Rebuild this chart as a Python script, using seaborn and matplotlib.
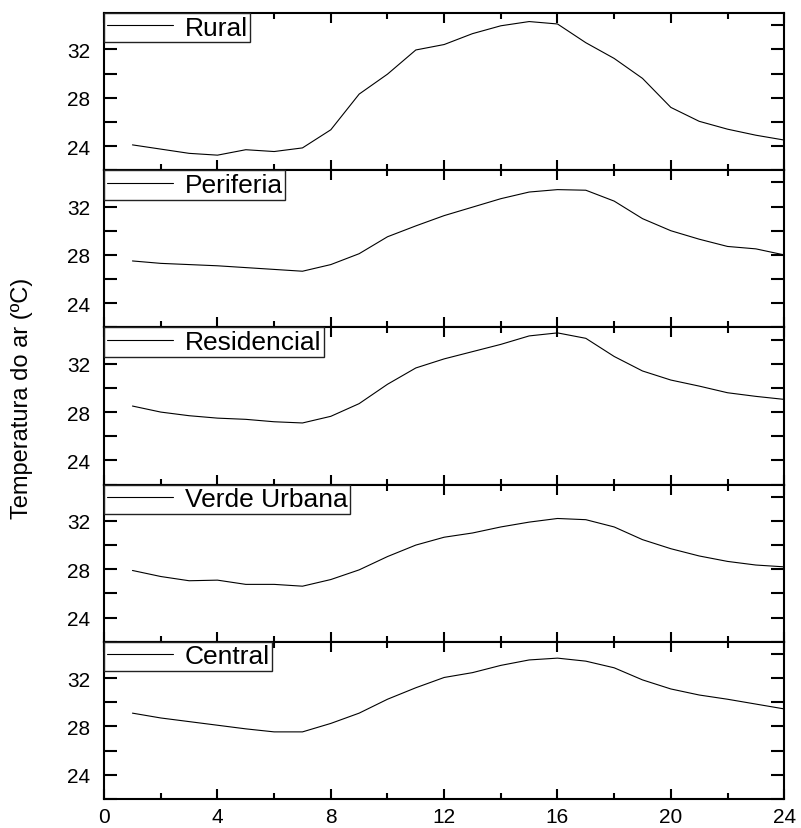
import numpy as np
import pandas as pd
import seaborn as sns
import matplotlib.pyplot as plt
from matplotlib.ticker import MultipleLocator

# hourly air temperature per zone
hours = list(range(1, 25))

rural = [24.1, 23.75, 23.4, 23.25, 23.7, 23.55, 23.85, 25.35, 28.3, 29.95, 31.95, 32.4,
         33.3, 33.95, 34.3, 34.1, 32.55, 31.25, 29.6, 27.2, 26.05, 25.4, 24.9, 24.5]
periferia = [27.5, 27.3, 27.2, 27.1, 26.95, 26.8, 26.65, 27.2, 28.1, 29.5, 30.4, 31.25,
             31.95, 32.65, 33.2, 33.4, 33.35, 32.45, 31.0, 30.0, 29.3, 28.7, 28.5, 28.0]
residencial = [28.5, 28.0, 27.7, 27.5, 27.4, 27.2, 27.1, 27.65, 28.7, 30.3, 31.65, 32.4,
               33.0, 33.6, 34.3, 34.55, 34.1, 32.6, 31.4, 30.65, 30.15, 29.6, 29.3, 29.05]
verde = [27.9, 27.4, 27.05, 27.1, 26.75, 26.75, 26.6, 27.15, 27.95, 29.05, 30.0, 30.65,
         31.0, 31.5, 31.9, 32.2, 32.1, 31.5, 30.45, 29.7, 29.1, 28.65, 28.35, 28.2]
central = [29.1, 28.7, 28.4, 28.1, 27.8, 27.55, 27.55, 28.25, 29.1, 30.25, 31.2, 32.05,
           32.45, 33.05, 33.5, 33.65, 33.4, 32.85, 31.85, 31.1, 30.6, 30.25, 29.85, 29.45]

zones = ['Rural', 'Periferia', 'Residencial', 'Verde Urbana', 'Central']
series = [rural, periferia, residencial, verde, central]

sns.set_style('ticks')
plt.rcParams['font.family'] = ['Liberation Sans', 'DejaVu Sans']
plt.rcParams['text.color'] = 'black'
plt.rcParams['xtick.color'] = 'black'
plt.rcParams['ytick.color'] = 'black'

fig, axes = plt.subplots(5, 1, figsize=(8.01, 8.29), dpi=100, sharex=True)
fig.subplots_adjust(left=0.13, right=0.979, top=0.983, bottom=0.035, hspace=0)

for ax, name, vals in zip(axes, zones, series):
    df = pd.DataFrame({'Hora': hours, 'Temp': vals})
    sns.lineplot(data=df, x='Hora', y='Temp', ax=ax, color='black', lw=0.8, label=name)
    ax.set_xlim(0, 24)
    ax.set_ylim(22, 35)
    ax.set_xlabel('')
    ax.set_ylabel('')
    ax.set_yticks([24, 28, 32])
    ax.yaxis.set_minor_locator(MultipleLocator(2))
    ax.xaxis.set_major_locator(MultipleLocator(4))
    ax.xaxis.set_minor_locator(MultipleLocator(2))
    ax.tick_params(axis='both', which='both', direction='in', top=True, right=True,
                   width=1.5, labelsize=15)
    ax.tick_params(axis='y', which='both', length=9.5, pad=10)
    ax.tick_params(axis='x', which='major', length=7.5)
    ax.tick_params(axis='x', which='minor', length=4.5)
    for s in ax.spines.values():
        s.set_linewidth(1.5)
        s.set_color('black')
    leg = ax.legend(loc='upper left', bbox_to_anchor=(0, 1), borderaxespad=0,
                    fontsize=19, handlelength=2.5, handletextpad=0.45,
                    borderpad=0.1, fancybox=False, framealpha=1)
    leg.get_frame().set_edgecolor('#222222')
    leg.get_frame().set_linewidth(1.0)

axes[-1].tick_params(axis='x', labelsize=15, pad=6)

fig.text(0.027, 0.52, 'Temperatura do ar (ºC)', rotation=90, va='center', ha='center',
         fontsize=17)

plt.savefig('out.png', dpi=100)
